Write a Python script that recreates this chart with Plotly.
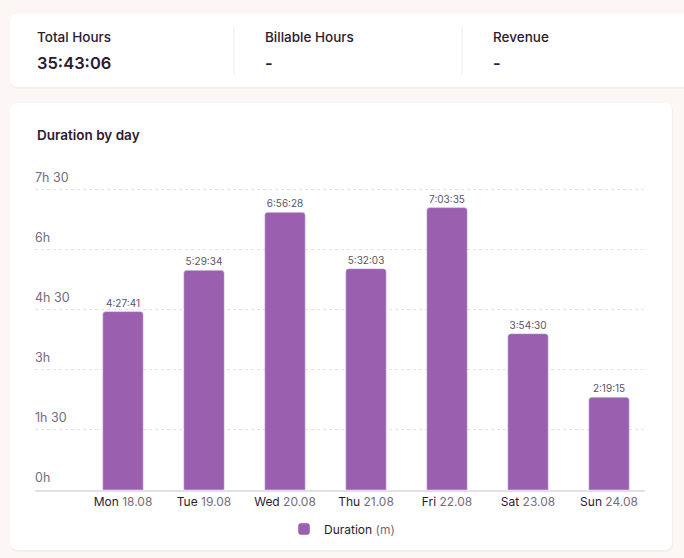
import plotly.graph_objects as go

# data
days = ["Mon", "Tue", "Wed", "Thu", "Fri", "Sat", "Sun"]
dates = ["18.08", "19.08", "20.08", "21.08", "22.08", "23.08", "24.08"]
durations = ["4:27:41", "5:29:34", "6:56:28", "5:32:03", "7:03:35", "3:54:30", "2:19:15"]
y_ticks = [0, 90, 180, 270, 360, 450]
y_tick_labels = ["0h", "1h 30", "3h", "4h 30", "6h", "7h 30"]
summary_titles = ["Total Hours", "Billable Hours", "Revenue"]
summary_values = ["35:43:06", "-", "-"]


def to_minutes(s):
    h, m, sec = [int(p) for p in s.split(":")]
    return h * 60 + m + sec / 60


minutes = [to_minutes(d) for d in durations]

W, H = 684, 558
BG = "#fcf7f4"
DARK = "#2b1a30"
MUTED = "#766a7c"
PURPLE = "#9b5fb0"
FONT = "Inter"

ticktext = [f"<span style='color:{DARK}'>{d}</span> {dt}" for d, dt in zip(days, dates)]


def px_x(x):
    return x / W


def px_y(y):
    return 1 - y / H


def card(x0, y0, x1, y1, r=8, fill="white"):
    # rounded rect in pixel coords -> paper path
    p = (f"M {px_x(x0 + r)} {px_y(y0)} L {px_x(x1 - r)} {px_y(y0)} "
         f"Q {px_x(x1)} {px_y(y0)} {px_x(x1)} {px_y(y0 + r)} "
         f"L {px_x(x1)} {px_y(y1 - r)} Q {px_x(x1)} {px_y(y1)} {px_x(x1 - r)} {px_y(y1)} "
         f"L {px_x(x0 + r)} {px_y(y1)} Q {px_x(x0)} {px_y(y1)} {px_x(x0)} {px_y(y1 - r)} "
         f"L {px_x(x0)} {px_y(y0 + r)} Q {px_x(x0)} {px_y(y0)} {px_x(x0 + r)} {px_y(y0)} Z")
    return dict(type="path", path=p, xref="paper", yref="paper",
                fillcolor=fill, line=dict(width=0), layer="below")


fig = go.Figure()
fig.add_trace(go.Bar(
    x=list(range(len(days))),
    y=minutes,
    text=durations,
    textposition="outside",
    textfont=dict(size=10, color="#5e5264", family=FONT),
    cliponaxis=False,
    marker=dict(color=PURPLE, cornerradius=3),
    width=0.5,
    name=f"<span style='color:{DARK}'>Duration</span> <span style='color:{MUTED}'>(m)</span>",
    showlegend=True,
))

shapes = [
    card(10, 15, 700, 89, fill="rgba(120,80,60,0.05)"),
    card(10, 14, 700, 87),
    card(10, 104, 673, 552, fill="rgba(120,80,60,0.05)"),
    card(10, 103, 672, 550),
]
for xd in [234, 462]:
    shapes.append(dict(type="line", xref="paper", yref="paper",
                       x0=px_x(xd), x1=px_x(xd), y0=px_y(27), y1=px_y(74),
                       line=dict(color="#ece7ea", width=1)))

annotations = []
for i, (t, v) in enumerate(zip(summary_titles, summary_values)):
    x = 35 + i * 228
    annotations.append(dict(text=t, x=px_x(x), y=px_y(37), xref="paper", yref="paper",
                            xanchor="left", yanchor="middle", showarrow=False,
                            font=dict(size=13.5, color=DARK, family=FONT, weight=500)))
    annotations.append(dict(text=v, x=px_x(x), y=px_y(63), xref="paper", yref="paper",
                            xanchor="left", yanchor="middle", showarrow=False,
                            font=dict(size=16.5, color=DARK, family=FONT, weight=600)))
annotations.append(dict(text="Duration by day", x=px_x(35), y=px_y(135), xref="paper", yref="paper",
                        xanchor="left", yanchor="middle", showarrow=False,
                        font=dict(size=13.5, color=DARK, family=FONT, weight=600)))

# 300 px for 450 minutes; extend the top so the last label is not clipped
y_max = 500
y_top_px = 490 - y_max * 300 / 450

fig.update_layout(
    width=W, height=H,
    margin=dict(l=0, r=0, t=0, b=0),
    paper_bgcolor=BG,
    plot_bgcolor="rgba(0,0,0,0)",
    font=dict(family=FONT, color=MUTED, size=12),
    shapes=shapes,
    annotations=annotations,
    showlegend=True,
    legend=dict(orientation="h", x=0.5, xanchor="center", y=px_y(529), yanchor="middle",
                font=dict(size=12, family=FONT), itemwidth=30, bgcolor="rgba(0,0,0,0)"),
    xaxis=dict(
        domain=[px_x(35), px_x(645)],
        range=[-1.086, 6.444],
        tickmode="array", tickvals=list(range(len(days))), ticktext=ticktext,
        showgrid=False, zeroline=False,
        showline=True, linecolor="#e4dfe4", linewidth=2,
        ticks="", tickfont=dict(size=12, color=MUTED, family=FONT),
    ),
    yaxis=dict(
        domain=[px_y(490), px_y(y_top_px)],
        range=[0, y_max],
        tickmode="array", tickvals=y_ticks, ticktext=y_tick_labels,
        ticklabelposition="inside top",
        ticklabelshift=-4, ticklabelstandoff=-3,
        showgrid=True, gridcolor="#e6e1e6", griddash="dot", gridwidth=1,
        zeroline=False, showline=False, ticks="",
        tickfont=dict(size=12.5, color=MUTED, family=FONT),
    ),
)

# drop the default page margin so the figure sits at 0,0
fig.write_html("out.html", config={"displayModeBar": False},
               post_script="document.body.style.margin='0';document.body.style.overflow='hidden';")
